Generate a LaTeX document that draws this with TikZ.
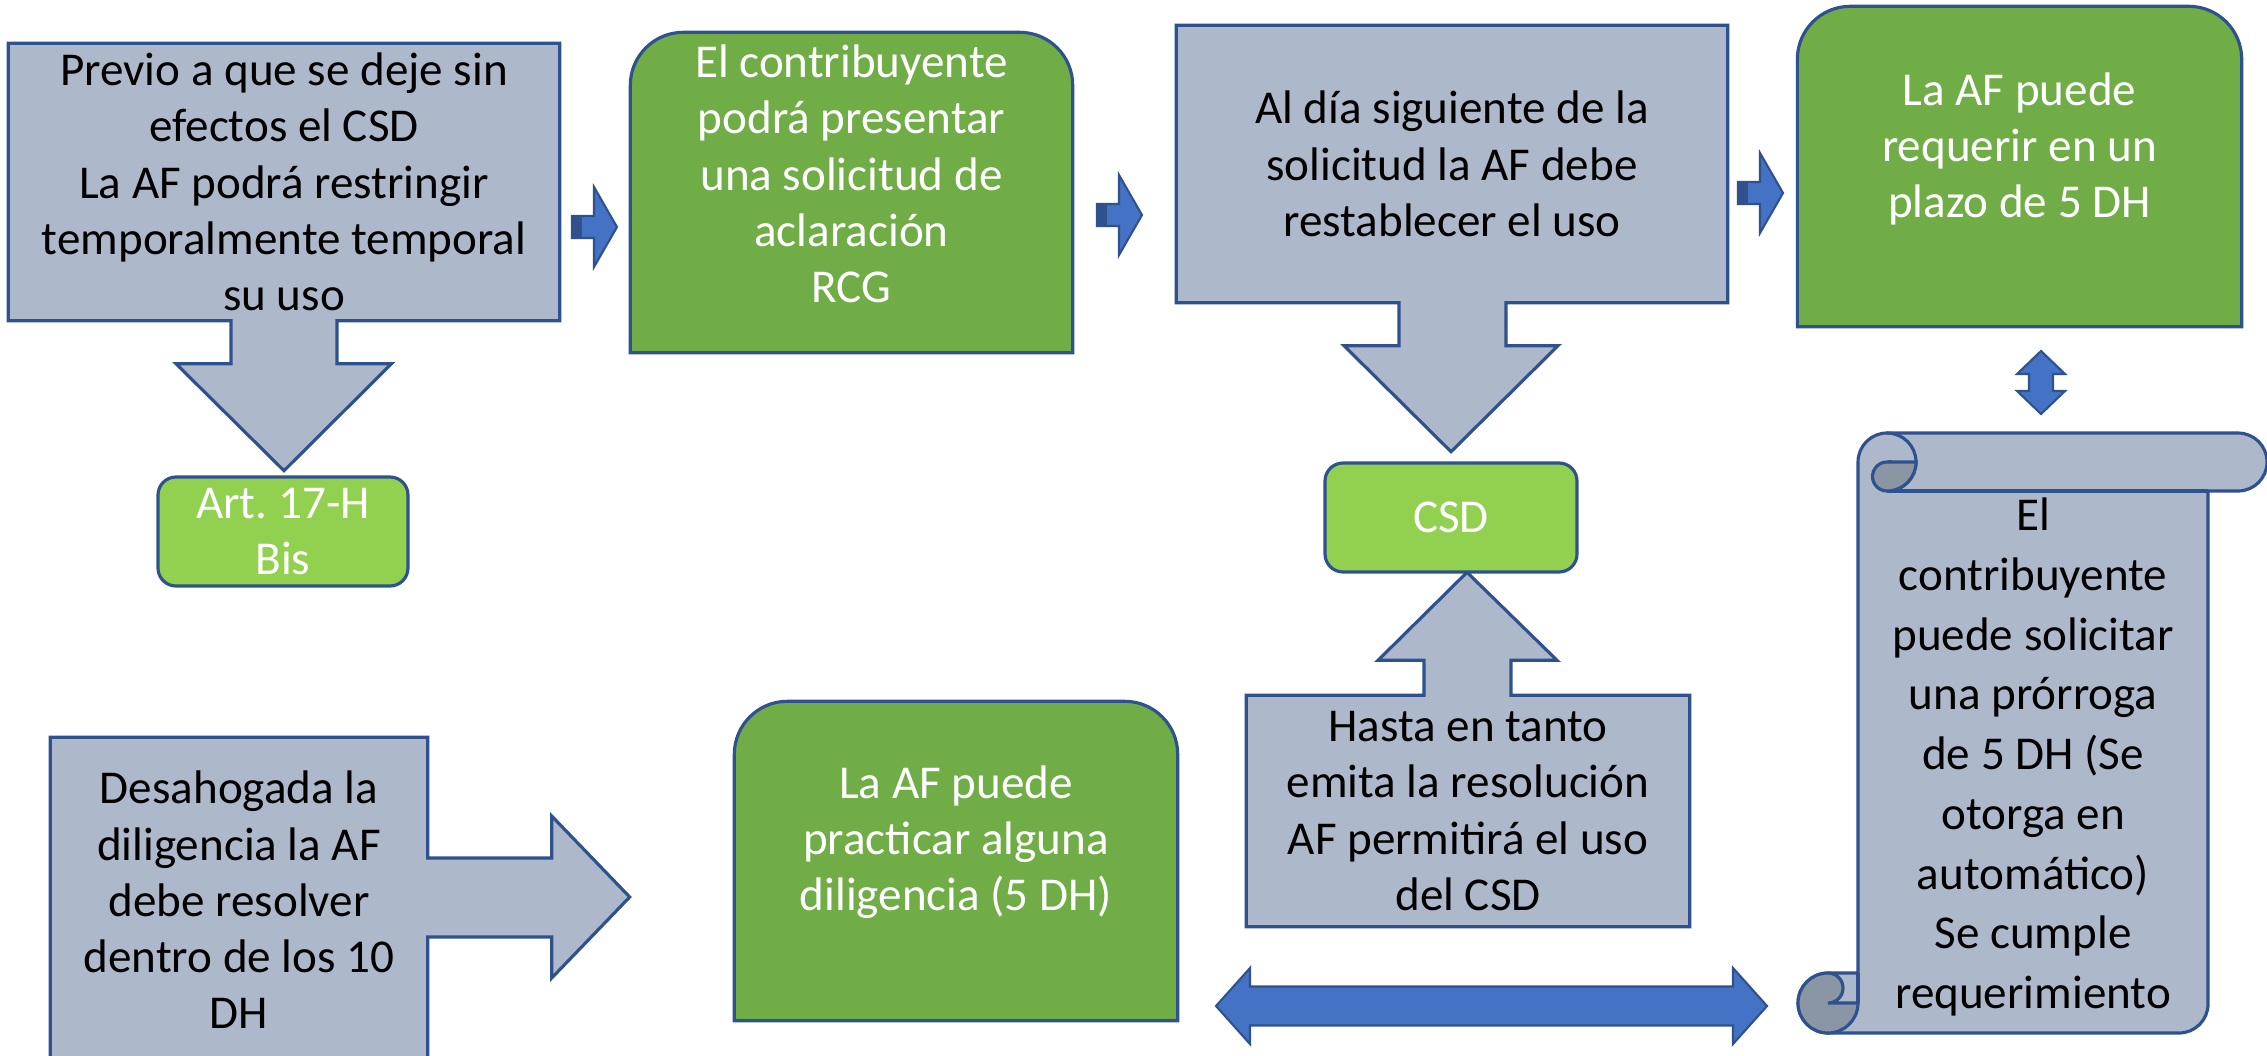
\documentclass[tikz,border=0pt]{standalone}
\usepackage{fontspec}
\setmainfont{Carlito}
\usepackage{xcolor}
\usepackage{tikz}
\usetikzlibrary{calc,backgrounds}
\frenchspacing
\definecolor{boxgrey}{HTML}{ADB9CA}
\definecolor{boxline}{HTML}{2F528F}
\definecolor{darkgreen}{HTML}{70AD47}
\definecolor{lightgreen}{HTML}{92D050}
\definecolor{arrowblue}{HTML}{4472C4}
\definecolor{rollgrey}{HTML}{8A96A4}
\tikzset{
    txt/.style={font=\fontsize{13.4}{16}\selectfont, align=center, inner sep=0pt},
    area/.style={inner sep=0pt, minimum width=#1},
    greyshape/.style={draw=boxline, fill=boxgrey, line width=0.9pt},
    greenshape/.style={draw=boxline, fill=darkgreen, line width=0.9pt},
    tagbox/.style={draw=boxline, fill=lightgreen, line width=0.9pt, rounded corners=0.18cm, text=white},
    bluearrow/.style={draw=boxline, fill=arrowblue, line width=0.6pt, line join=miter}}
\newcommand{\roundtop}[1]{\draw[greenshape] (#1.south west) -- ($(#1.north west)+(0,-0.53)$) arc[start angle=180,end angle=90,radius=0.53] -- ($(#1.north east)+(-0.53,0)$) arc[start angle=90,end angle=0,radius=0.53] -- (#1.south east) -- cycle;}
\newcommand{\smallarrow}[1]{\draw[bluearrow] (#1) -- ++(-0.23,0.40) -- ++(0,-0.29) -- ++(-0.22,0) -- ++(0,-0.22) -- ++(0.22,0) -- ++(0,-0.29) -- cycle;
  \fill[boxline] ($(#1)+(-0.45,-0.11)$) rectangle ++(0.10,0.22);}

\begin{document}
\begin{tikzpicture}
\useasboundingbox (0,0) rectangle (22.67,10.55);

%Top row
\node[txt, minimum width=5.5cm, minimum height=2.76cm] (previo) at (2.84,8.73) {Previo a que se deje sin\\efectos el CSD\\La AF podrá restringir\\temporalmente temporal\\su uso};
\node[area=4.41cm, minimum height=3.19cm] (contrib) at (8.515,8.625) {};
\node[txt, text=white] (contribtxt) at (8.515,8.81) {El contribuyente\\podrá presentar\\una solicitud de\\aclaración\\RCG};
\node[txt, minimum width=5.5cm, minimum height=2.76cm] (siguiente) at (14.52,8.91) {Al día siguiente de la\\solicitud la AF debe\\restablecer el uso};
\node[area=4.43cm, minimum height=3.19cm] (requerir) at (20.195,8.885) {};
\node[txt, text=white] (requerirtxt) at (20.195,9.06) {La AF puede\\requerir en un\\plazo de 5 DH};

%Middle row
\node[txt, tagbox, minimum width=2.5cm, minimum height=1.09cm] (art) at (2.83,5.235) {Art. 17-H\\Bis};
\node[txt, tagbox, minimum width=2.52cm, minimum height=1.09cm] (csd) at (14.51,5.375) {CSD};

%Bottom row
\node[txt, minimum width=3.76cm, minimum height=3.24cm] (desa) at (2.39,1.55) {Desahogada la\\diligencia la AF\\debe resolver\\dentro de los 10\\DH};
\node[area=4.42cm, minimum height=3.18cm] (practicar) at (9.56,1.94) {};
\node[txt, text=white] (practicartxt) at (9.56,2.13) {La AF puede\\practicar alguna\\diligencia (5 DH)};
\node[txt, minimum width=4.42cm, minimum height=2.30cm] (hasta) at (14.68,2.44) {Hasta en tanto\\emita la resolución\\AF permitirá el uso\\del CSD};
\node[txt, font=\fontsize{13.4}{17}\selectfont] (scroll) at (20.33,2.98) {El\\contribuyente\\puede solicitar\\una prórroga\\de 5 DH (Se\\otorga en\\automático)\\Se cumple\\requerimiento};

%Blue arrows
\coordinate (a1) at (6.17,8.28);
\coordinate (a2) at (11.42,8.40);
\coordinate (a3) at (17.83,8.62);
\smallarrow{a1}
\smallarrow{a2}
\smallarrow{a3}
\coordinate (v1) at (20.41,7.04);
\draw[bluearrow] (v1) -- ++(0.24,-0.23) -- ++(-0.12,0) -- ++(0,-0.17) -- ++(0.12,0) -- ++(-0.24,-0.23) -- ++(-0.24,0.23) -- ++(0.12,0) -- ++(0,0.17) -- ++(-0.12,0) -- cycle;
\coordinate (h1) at (12.16,0.49);
\coordinate (h2) at (17.67,0.49);
\draw[bluearrow] (h1) -- ++(0.34,0.38) -- ++(0,-0.185) -- ($(h2)+(-0.34,0.195)$) -- ++(0,0.185) -- (h2) -- ++(-0.34,-0.38) -- ++(0,0.185) -- ($(h1)+(0.34,-0.195)$) -- ++(0,-0.185) -- cycle;

\begin{scope}[on background layer]
\fill[white] (0,0) rectangle (22.67,10.55);
%Callout boxes
\draw[greyshape] (previo.south west) |- (previo.north east) |- ($(previo.south)+(0.53,0)$) -- ++(0,-0.43) -- ++(0.545,0) -- ($(previo.south)+(0,-1.50)$) -- ($(previo.south)+(-1.08,-0.43)$) -- ++(0.55,0) -- ($(previo.south)+(-0.53,0)$) -- cycle;
\draw[greyshape] (siguiente.south west) |- (siguiente.north east) |- ($(siguiente.south)+(0.54,0)$) -- ++(0,-0.43) -- ++(0.52,0) -- ($(siguiente.south)+(-0.01,-1.49)$) -- ($(siguiente.south)+(-1.08,-0.43)$) -- ++(0.55,0) -- ($(siguiente.south)+(-0.53,0)$) -- cycle;
\draw[greyshape] (hasta.north west) |- (hasta.south east) |- ($(hasta.north)+(0.43,0)$) -- ++(0,0.35) -- ++(0.46,0) -- ($(hasta.north)+(-0.01,1.23)$) -- ($(hasta.north)+(-0.90,0.35)$) -- ++(0.46,0) -- ($(hasta.north)+(-0.44,0)$) -- cycle;
\draw[greyshape] (desa.north east) -| (desa.south west) -| ($(desa.east)+(0,-0.37)$) -- ++(1.24,0) -- ++(0,-0.41) -- ($(desa.east)+(2.02,0.03)$) -- ($(desa.east)+(1.24,0.84)$) -- ++(0,-0.42) -- ($(desa.east)+(0,0.42)$) -- cycle;
%Green boxes
\roundtop{contrib}
\roundtop{requerir}
\roundtop{practicar}
%Scroll
\draw[greyshape] (18.87,6.22) -- (22.38,6.22) arc[start angle=90,end angle=-90,radius=0.29] -- (22.08,5.64) -- (22.08,0.51) arc[start angle=0,end angle=-90,radius=0.29] -- (18.28,0.22) arc[start angle=-90,end angle=-270,radius=0.30] -- (18.58,0.82) -- (18.58,5.93) arc[start angle=180,end angle=90,radius=0.29] -- cycle;
\draw[boxline, line width=0.9pt] (18.87,5.64) -- (22.08,5.64);
\draw[boxline, line width=0.9pt] (18.87,6.22) arc[start angle=90,end angle=-90,radius=0.29];
\draw[boxline, line width=0.9pt, fill=rollgrey] (18.87,5.93) -- (19.16,5.93) arc[start angle=0,end angle=-90,radius=0.29] arc[start angle=-90,end angle=-270,radius=0.145] -- cycle;
\draw[boxline, line width=0.9pt, fill=rollgrey] (18.58,0.52) arc[start angle=0,end angle=-270,radius=0.30] arc[start angle=90,end angle=-90,radius=0.15] -- cycle;
\draw[boxline, line width=0.9pt] (18.58,0.82) -- (18.58,0.52);
\end{scope}

\end{tikzpicture}
\end{document}
